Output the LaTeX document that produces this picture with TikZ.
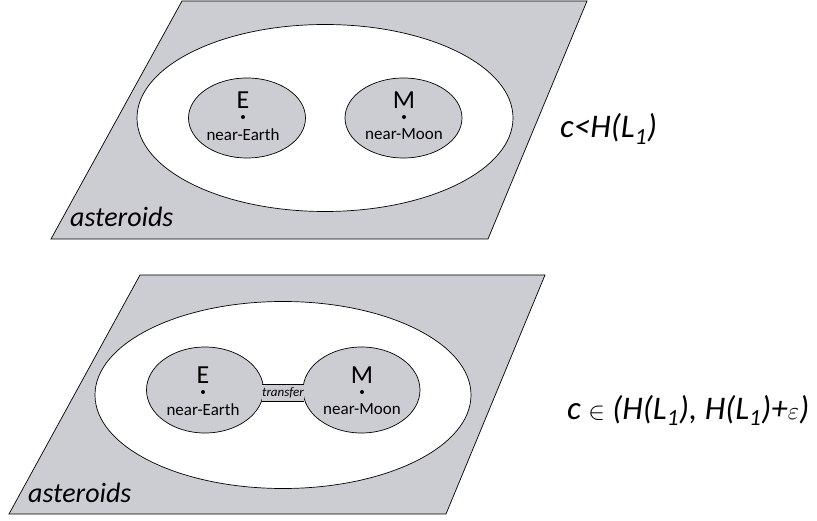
\documentclass[tikz,border=0pt]{standalone}
\usepackage{fontspec}
\setmainfont{Carlito}
\usepackage{tikz}
\usetikzlibrary{positioning, shapes.geometric}
\definecolor{sheetgray}{RGB}{204, 204, 211}

\begin{document}
\begin{tikzpicture}[x=1pt, y=-1pt,
    sheet/.style={draw, fill=sheetgray, line width=0.7pt},
    region/.style={ellipse, draw, fill=white, line width=0.7pt, minimum width=376pt, minimum height=187pt},
    nearset/.style={ellipse, draw, fill=sheetgray, line width=0.7pt, minimum width=117pt, minimum height=80pt, inner sep=0pt},
    body/.style={circle, fill, inner sep=0pt, minimum size=4pt},
    letter/.style={inner sep=0pt, font=\fontsize{26}{28}\selectfont},
    tag/.style={inner sep=0pt, font=\fontsize{17}{19}\selectfont},
    neck/.style={fill=sheetgray, inner sep=0pt, minimum width=42pt, minimum height=16pt, font=\fontsize{13}{14}\selectfont\itshape},
    condition/.style={inner sep=0pt, anchor=base west, font=\fontsize{33}{36}\selectfont\itshape}
]
\useasboundingbox (0,0) rectangle (817,521);

% upper level: c below H(L1)
\draw[sheet] (182,1) -- (587,1) -- (488,239) -- (51,239) -- cycle;
\node[region] (hillA) at (325,118) {};
\node[nearset] (earthA) at (247,118) {};
\node[nearset] (moonA) at (403.5,118) {};
\node[body] (dotEA) at (243,117) {};
\node[body] (dotMA) at (404,117) {};
\node[letter, above=6pt of dotEA] (letEA) {E};
\node[letter, above=6pt of dotMA] (letMA) {M};
\node[tag, below=9pt of dotEA] (tagEA) {near-Earth};
\node[tag, below=9pt of dotMA] (tagMA) {near-Moon};
\node[inner sep=0pt, anchor=base west, font=\fontsize{28}{30}\selectfont\itshape] (astA) at (70,227) {asteroids};
\node[condition] (condA) at (560,138) {c<H(L\textsubscript{1})};

% lower level: c just above H(L1)
\draw[sheet] (140,275) -- (545,275) -- (446,514) -- (9,514) -- cycle;
\node[region] (hillB) at (283,395) {};
\node[nearset, minimum height=86pt] (earthB) at (205,390) {};
\node[nearset, minimum height=86pt] (moonB) at (361.5,390) {};
\node[neck] (transfer) at (283,393) {transfer};
\draw[line width=0.7pt] (transfer.north west) -- (transfer.north east);
\draw[line width=0.7pt] (transfer.south west) -- (transfer.south east);
\node[body] (dotEB) at (203,392) {};
\node[body] (dotMB) at (362,392) {};
\node[letter, above=6pt of dotEB] (letEB) {E};
\node[letter, above=6pt of dotMB] (letMB) {M};
\node[tag, below=9pt of dotEB] (tagEB) {near-Earth};
\node[tag, below=9pt of dotMB] (tagMB) {near-Moon};
\node[inner sep=0pt, anchor=base west, font=\fontsize{28}{30}\selectfont\itshape] (astB) at (28,502) {asteroids};
\node[condition] (condB) at (567,419) {c $\in$ (H(L\textsubscript{1}), H(L\textsubscript{1})+$\varepsilon$)};

\end{tikzpicture}
\end{document}
